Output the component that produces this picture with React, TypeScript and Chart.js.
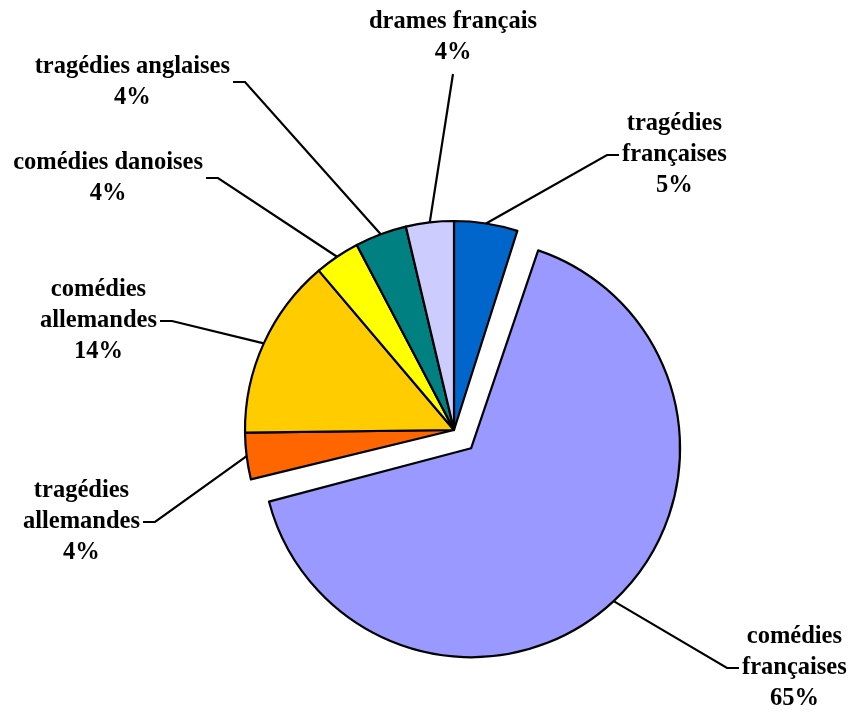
import React, { useEffect, useRef } from "react";
import { Chart, registerables } from "chart.js";

Chart.register(...registerables);

// ---- data ----
const categories = [
  "tragédies françaises",
  "comédies françaises",
  "tragédies allemandes",
  "comédies allemandes",
  "comédies danoises",
  "tragédies anglaises",
  "drames français",
];
// label text broken into lines as in the picture
const categoryLines = [
  ["tragédies", "françaises"],
  ["comédies", "françaises"],
  ["tragédies", "allemandes"],
  ["comédies", "allemandes"],
  ["comédies danoises"],
  ["tragédies anglaises"],
  ["drames français"],
];
// slice sizes
const shares = [4.9, 66.3, 3.6, 14.0, 3.5, 4.0, 3.7];
// percentages as printed on the labels
const percentLabels = [5, 65, 4, 14, 4, 4, 4];
const sliceColors = ["#0066CC", "#9999FF", "#FF6600", "#FFCC00", "#FFFF00", "#008080", "#CCCCFF"];
// Chart.js draws an arc offset of n as a shift of n/4 pixels
const explode = [0, 100, 0, 0, 0, 0, 0];

// ---- layout of the labels (elbow point relative to pie centre) ----
const labelLayout = [
  { dx: 153, dy: -275, side: "right" },
  { dx: 273, dy: 238, side: "right" },
  { dx: -299, dy: 92, side: "left" },
  { dx: -282, dy: -109, side: "left" },
  { dx: -236, dy: -252, side: "left" },
  { dx: -209, dy: -348, side: "left" },
  { dx: -1, dy: -356, side: "top" },
];

const FONT = 'bold 24.5px "Liberation Serif", "Times New Roman", serif';
const LINE_H = 31;

// Chart.js enlarges an offset arc's radius by (offset/4)*fix; undo that so the
// exploded slice keeps the same radius as the others.
function radiusGrowth(arc: any) {
  const off = (arc.options.offset || 0) / 4;
  const circ = arc.endAngle - arc.startAngle;
  const fix = 1 - Math.sin(Math.min(Math.PI, circ || 0));
  return off * fix;
}

const keepRadiusPlugin = {
  id: "keepRadius",
  afterDatasetsUpdate(chart: any) {
    const meta = chart.getDatasetMeta(0);
    meta.data.forEach((arc: any) => {
      const g = radiusGrowth(arc);
      if (g > 0) arc.outerRadius = arc.outerRadius - g;
    });
  },
};

const leaderPlugin = {
  id: "leaderLabels",
  afterDatasetsDraw(chart: any) {
    const ctx = chart.ctx;
    const meta = chart.getDatasetMeta(0);
    ctx.save();
    ctx.font = FONT;
    ctx.fillStyle = "#000";
    ctx.strokeStyle = "#000";
    ctx.lineWidth = 2.2;
    ctx.lineJoin = "miter";
    ctx.textAlign = "center";
    ctx.textBaseline = "middle";
    meta.data.forEach((arc: any, i: number) => {
      const mid = (arc.startAngle + arc.endAngle) / 2;
      const shift = (arc.options.offset || 0) / 4;
      const r = arc.outerRadius + radiusGrowth(arc) + shift;
      const ax = arc.x + Math.cos(mid) * r;
      const ay = arc.y + Math.sin(mid) * r;
      const lay = labelLayout[i];
      const ex = arc.x + lay.dx;
      const ey = arc.y + lay.dy;
      const lines = [...categoryLines[i], percentLabels[i] + "%"];
      const maxW = Math.max(...lines.map((l) => ctx.measureText(l).width));
      ctx.beginPath();
      ctx.moveTo(ax, ay);
      ctx.lineTo(ex, ey);
      let cx = ex;
      let topY = ey - (lines.length * LINE_H) / 2;
      if (lay.side === "right") {
        ctx.lineTo(ex + 12, ey);
        cx = ex + 15 + maxW / 2;
      } else if (lay.side === "left") {
        ctx.lineTo(ex - 12, ey);
        cx = ex - 15 - maxW / 2;
      } else {
        topY = ey - 6 - lines.length * LINE_H;
      }
      ctx.stroke();
      lines.forEach((l, k) => {
        ctx.fillText(l, cx, topY + LINE_H * k + LINE_H / 2);
      });
    });
    ctx.restore();
  },
};

export default function App() {
  const ref = useRef<HTMLCanvasElement>(null);
  useEffect(() => {
    if (!ref.current) return;
    const chart = new Chart(ref.current, {
      type: "pie",
      data: {
        labels: categories,
        datasets: [
          {
            data: shares,
            backgroundColor: sliceColors,
            borderColor: "#000000",
            borderWidth: 2.2,
            borderJoinStyle: "round",
            offset: explode,
          } as any,
        ],
      },
      options: {
        animation: false,
        responsive: true,
        maintainAspectRatio: false,
        radius: 209,
        layout: { padding: { left: 57, right: 0, top: 147, bottom: 0 } },
        plugins: {
          legend: { display: false },
          tooltip: { enabled: false },
        },
      } as any,
      plugins: [keepRadiusPlugin, leaderPlugin],
    });
    return () => chart.destroy();
  }, []);
  return (
    <div style={{ position: "fixed", left: 0, top: 0, width: 851, height: 713, background: "#fff" }}>
      <canvas ref={ref} />
    </div>
  );
}
